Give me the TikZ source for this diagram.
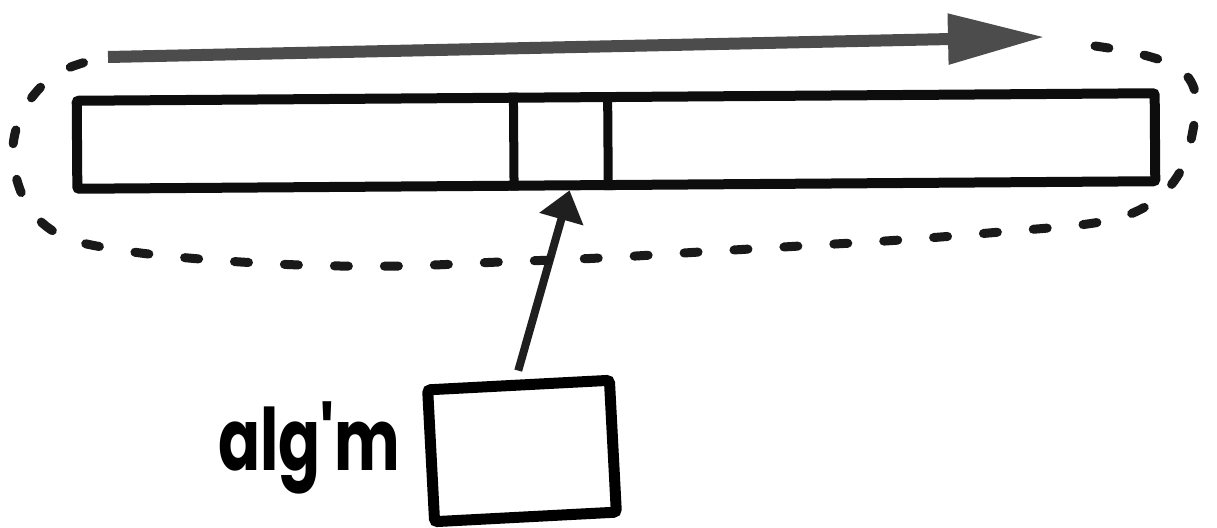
\documentclass[tikz,border=0pt]{standalone}
\usepackage{fontspec}
\newfontfamily\markerfont{Poppins}
\usetikzlibrary{arrows.meta,calc}
\begin{document}
\begin{tikzpicture}[x=1pt,y=-1pt,
  tapebox/.style={draw=black!95, line width=10pt, rectangle, minimum width=1078pt,
    minimum height=88pt, inner sep=0pt, rounded corners=2pt, rotate=0.4},
  algbox/.style={draw=black, line width=11pt, rectangle, minimum width=182pt,
    minimum height=132pt, inner sep=0pt, rounded corners=3pt, rotate=3},
  cell/.style={draw=black!95, line width=9pt},
  sweep/.style={draw=black!70, line width=12pt,
    -{Triangle[length=97pt 0, width=48pt 0]}},
  pointer/.style={draw=black!88, line width=8pt,
    -{Triangle[length=30pt 0, width=44pt 0]}},
  loop/.style={draw=black!90, line width=9pt, line cap=round,
    dash pattern=on 14pt off 36pt},
  lbl/.style={font=\markerfont\bfseries\fontsize{86}{86}\selectfont,
    xscale=0.72, inner sep=0pt}
]
\useasboundingbox (0,0) rectangle (1217,527);

% the tape and the algorithm box
\node[tapebox] (tape) at (616,141) {};
\node[algbox] (alg) at (522,451) {};
\node[lbl] (name) at (309,448) {alg'm};

% the cell under the head
\draw[cell] ($(tape.north west)!0.406!(tape.north east)$)
         -- ($(tape.south west)!0.406!(tape.south east)$);
\draw[cell] ($(tape.north west)!0.4926!(tape.north east)$)
         -- ($(tape.south west)!0.4926!(tape.south east)$);

% head pointing at the tape
\coordinate (hit) at ($(tape.south west)!0.457!(tape.south east)$);
\draw[pointer] ([yshift=9pt]alg.north) -- (hit);

% dashed loop round the tape
\draw[loop] plot[smooth, tension=0.6] coordinates {
  (1095,46) (1140,54) (1178,68) (1195,92) (1193,130) (1180,172)
  (1150,204) (1100,222) (1000,232) (900,240) (800,246) (700,252)
  (600,258) (500,262) (400,266) (300,265) (200,259) (120,250)
  (62,236) (28,206) (13,160) (19,120) (38,90) (62,71) (86,62)};

% sweep along the tape
\coordinate (sweepstart) at (108,57);
\coordinate (sweepend) at (1045,37);
\draw[sweep] (sweepstart) -- (sweepend);
\end{tikzpicture}
\end{document}
